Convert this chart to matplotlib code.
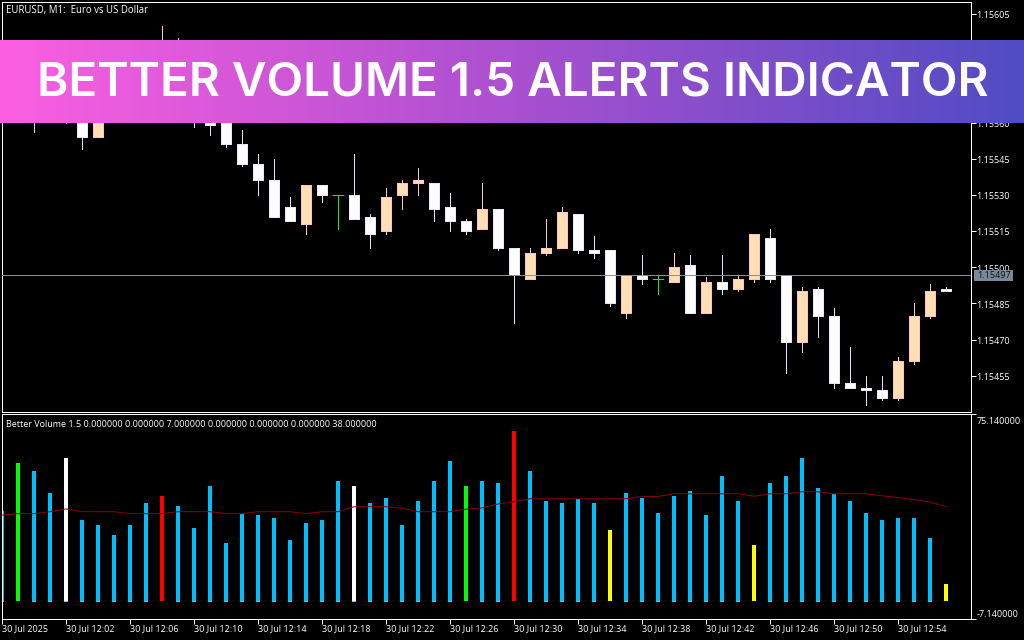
import numpy as np
import matplotlib
matplotlib.use("Agg")
import matplotlib.pyplot as plt
from matplotlib.patches import Rectangle
from matplotlib.transforms import ScaledTranslation

W, H = 1024, 640
BAR_INDEX_START = -1

opens = [1.15570,1.15570,1.15564,1.15572,1.15568,1.15564,1.15554,1.15566,1.15572,1.15580,
         1.15576,1.15586,1.15578,1.15566,1.15560,1.15551,1.15543,1.15536,1.15525,1.15518,
         1.15534,1.15530,1.15530,1.15521,1.15515,1.15530,1.15535,1.15535,1.15525,1.15519,
         1.15516,1.15524,1.15508,1.15495,1.15506,1.15508,1.15522,1.15507,1.15507,1.15481,
         1.15497,1.15495,1.15494,1.15501,1.15481,1.15494,1.15491,1.15495,1.15512,1.15497,
         1.15469,1.15491,1.15480,1.15452,1.15450,1.15449,1.15446,1.15461,1.15480,1.15491]
closes = [1.15568,1.15572,1.15572,1.15568,1.15562,1.15554,1.15566,1.15572,1.15578,1.15576,
          1.15586,1.15578,1.15566,1.15559,1.15551,1.15543,1.15536,1.15521,1.15519,1.15534,
          1.15530,1.15530,1.15520,1.15514,1.15529,1.15535,1.15536,1.15524,1.15519,1.15515,
          1.15524,1.15508,1.15497,1.15506,1.15508,1.15523,1.15507,1.15506,1.15485,1.15497,
          1.15495,1.15495,1.15500,1.15481,1.15494,1.15491,1.15495,1.15514,1.15495,1.15469,
          1.15490,1.15480,1.15452,1.15450,1.15449,1.15446,1.15461,1.15480,1.15490,1.15490]
highs = [1.15574,1.15574,1.15576,1.15574,1.15570,1.15566,1.15568,1.15575,1.15580,1.15582,
         1.15600,1.15595,1.15582,1.15568,1.15562,1.15557,1.15547,1.15545,1.15529,1.15534,
         1.15534,1.15530,1.15547,1.15522,1.15533,1.15536,1.15541,1.15535,1.15531,1.15520,
         1.15535,1.15524,1.15508,1.15508,1.15520,1.15525,1.15522,1.15513,1.15507,1.15497,
         1.15505,1.15497,1.15506,1.15505,1.15496,1.15505,1.15497,1.15514,1.15516,1.15497,
         1.15492,1.15492,1.15483,1.15467,1.15455,1.15455,1.15463,1.15485,1.15493,1.15492]
lows = [1.15566,1.15566,1.15556,1.15565,1.15560,1.15549,1.15554,1.15564,1.15570,1.15574,
        1.15574,1.15576,1.15558,1.15555,1.15550,1.15542,1.15530,1.15521,1.15519,1.15514,
        1.15527,1.15516,1.15520,1.15508,1.15514,1.15524,1.15530,1.15519,1.15515,1.15514,
        1.15516,1.15507,1.15477,1.15495,1.15505,1.15508,1.15506,1.15504,1.15484,1.15479,
        1.15493,1.15489,1.15494,1.15481,1.15481,1.15489,1.15490,1.15494,1.15494,1.15456,
        1.15465,1.15471,1.15450,1.15450,1.15443,1.15445,1.15445,1.15460,1.15479,1.15490]

volumes = [36.2,55.6,52.3,43.4,57.6,32.6,30.5,26.5,30.5,39.4,42.2,38.2,29.3,46.3,23.3,35.0,34.6,33.4,24.5,31.3,32.6,48.3,
           46.3,39.4,41.4,30.5,40.2,48.3,56.4,46.3,48.3,47.5,68.5,52.3,40.2,39.4,41.0,39.4,28.5,43.4,41.4,35.4,42.2,
           44.3,34.6,50.3,40.2,22.5,47.5,50.3,57.6,45.5,43.0,40.2,35.4,32.6,33.4,33.4,25.3,7.1]
volume_avg = [34.6,35.2,35.2,36.0,37.1,36.0,36.0,36.0,35.2,35.2,35.2,36.0,36.0,36.0,35.2,35.2,36.0,36.0,36.0,35.2,36.0,36.0,
              38.0,38.0,38.0,37.4,36.0,36.0,36.0,37.0,37.5,39.1,40.0,41.2,41.2,41.2,41.2,41.2,41.2,41.2,42.1,42.1,43.2,
              43.2,43.2,43.2,43.2,42.2,43.2,43.2,44.0,44.0,43.2,43.2,43.2,42.4,41.7,40.9,39.8,38.0]
volume_kind = ["n"] * 60
for pos, kind in {1: "g", 4: "w", 10: "r", 22: "w", 29: "g", 32: "r", 38: "y", 47: "y", 59: "y"}.items():
    volume_kind[pos] = kind

price_ticks = [1.15605,1.15590,1.15575,1.15560,1.15545,1.15530,1.15515,1.15500,1.15485,1.15470,1.15455]
time_tick_bars = list(range(-1, 56, 4))
time_tick_labels = ["30 Jul 2025","30 Jul 12:02","30 Jul 12:06","30 Jul 12:10","30 Jul 12:14","30 Jul 12:18",
                    "30 Jul 12:22","30 Jul 12:26","30 Jul 12:30","30 Jul 12:34","30 Jul 12:38","30 Jul 12:42",
                    "30 Jul 12:46","30 Jul 12:50","30 Jul 12:54"]
last_price = 1.15497
vol_top, vol_bottom = 75.14, -7.14

FONT = "Open Sans"
FS = 6.5
PX = 72 / 100
plt.rcParams["font.family"] = FONT

fig = plt.figure(figsize=(W / 100, H / 100), dpi=100, facecolor="black")


def axes_px(x0, y0, x1, y1):
    return fig.add_axes([x0 / W, 1 - y1 / H, (x1 - x0) / W, (y1 - y0) / H], facecolor="black")


def nudge_down(text, px):
    text.set_transform(text.get_transform() + ScaledTranslation(0, -px / 100, fig.dpi_scale_trans))


L, R = 2.0, 971.0
main = axes_px(L, 2.0, R, 412.0)
vol = axes_px(L, 414.4, R, 618.9)
xlim = ((L - 18) / 16, (R - 18) / 16)

for ax in (main, vol):
    ax.set_xlim(xlim)
    for s in ax.spines.values():
        s.set_color("white")
        s.set_linewidth(PX)
    ax.tick_params(colors="white", width=PX, length=4.5 * PX, labelsize=FS)

main.set_ylim(1.15440, 1.15610)
main.yaxis.tick_right()
main.set_yticks(price_ticks)
main.set_yticklabels([f"{t:.5f}" for t in price_ticks])
main.tick_params(axis="y", pad=0.8)
main.set_xticks([])
for lab in main.get_yticklabels():
    nudge_down(lab, 0.8)

idx = np.arange(BAR_INDEX_START, BAR_INDEX_START + len(opens))
o, h, l, c = map(np.array, (opens, highs, lows, closes))
BW = 10.2 / 16
for i, op, hi, lo, cl in zip(idx, o, h, l, c):
    if abs(op - cl) < 1e-7:
        col = "#00ff00"
        main.vlines(i, lo, hi, color=col, lw=PX, antialiased=False, zorder=2)
        main.hlines(op, i - BW / 2, i + BW / 2, color=col, lw=PX, antialiased=False, zorder=2)
        continue
    up = cl > op
    edge = "#ffc0cb" if up else "#e6e6fa"
    face = "#ffe0b5" if up else "#ffffff"
    main.vlines(i, lo, hi, color=edge, lw=PX, antialiased=False, zorder=2)
    main.bar(i, abs(cl - op), BW, bottom=min(op, cl), facecolor=face, edgecolor=edge,
             linewidth=PX, antialiased=False, zorder=3)

main.axhline(last_price, color="#8a8f96", lw=PX, antialiased=False, zorder=4)
fig.add_artist(Rectangle((974 / W, 1 - 281 / H), 39 / W, 11 / H, transform=fig.transFigure,
                         facecolor="#778899", edgecolor="none", zorder=2))
fig.text(977 / W, 1 - 275.5 / H, f"{last_price:.5f}", color="#101010", fontsize=FS,
         va="center", ha="left", zorder=3)
fig.text(6 / W, 1 - 10.3 / H, "EURUSD, M1:  Euro vs US Dollar", color="white", fontsize=6.9, va="center", ha="left")

vol.set_ylim(vol_bottom, vol_top)
vol.yaxis.tick_right()
vol.set_yticks([vol_top, vol_bottom])
labs = vol.set_yticklabels([f"{vol_top:.6f}", f"{vol_bottom:.6f}"])
vol.tick_params(axis="y", pad=0.8)
vol.set_xticks(time_tick_bars)
xlabs = vol.set_xticklabels(time_tick_labels)
for t in xlabs:
    t.set_ha("left")
vol.tick_params(axis="x", pad=0.8)
labs[0].set_va("top")
labs[1].set_va("bottom")
nudge_down(labs[0], 2.2)

palette = {"n": "#00bfff", "g": "#00ff00", "w": "#ffffff", "r": "#ff0000", "y": "#ffff00"}
BARW = 4 / 16
for i, v, k in zip(idx, volumes, volume_kind):
    vol.bar(i, v, BARW, color=palette[k], linewidth=0, antialiased=False, zorder=2)
    if k in "nw":
        vol.bar(i, 0.4, BARW, bottom=-0.4, color="#ffa500", linewidth=0, antialiased=False, zorder=2)
vol.plot(idx, volume_avg, color="#8b0000", lw=1.0 * PX, zorder=3, drawstyle="default")
fig.text(6 / W, 1 - 424.3 / H, "Better Volume 1.5 0.000000 0.000000 7.000000 0.000000 0.000000 0.000000 38.000000",
         color="white", fontsize=6.5, va="center", ha="left")

banner = axes_px(0, 40.3, W, 122.6)
banner.set_zorder(10)
banner.axis("off")
left, mid, right = np.array([252, 95, 225]) / 255, np.array([170, 80, 208]) / 255, np.array([80, 76, 196]) / 255
t = np.linspace(0, 1, W)[:, None]
grad = np.where(t < 0.5, left + (mid - left) * t * 2, mid + (right - mid) * (t - 0.5) * 2)[None, :, :]
banner.imshow(grad, aspect="auto", extent=(0, 1, 0, 1), interpolation="bilinear")
banner.set_xlim(0, 1)
banner.set_ylim(0, 1)
banner.text(512.5 / W, (122.6 - 95.5) / 82.3, "BETTER VOLUME 1.5 ALERTS INDICATOR", color="white",
            family="Inter", weight="semibold", fontsize=34.3, ha="center", va="baseline")

fig.savefig("out.png", dpi=100, facecolor="black")
